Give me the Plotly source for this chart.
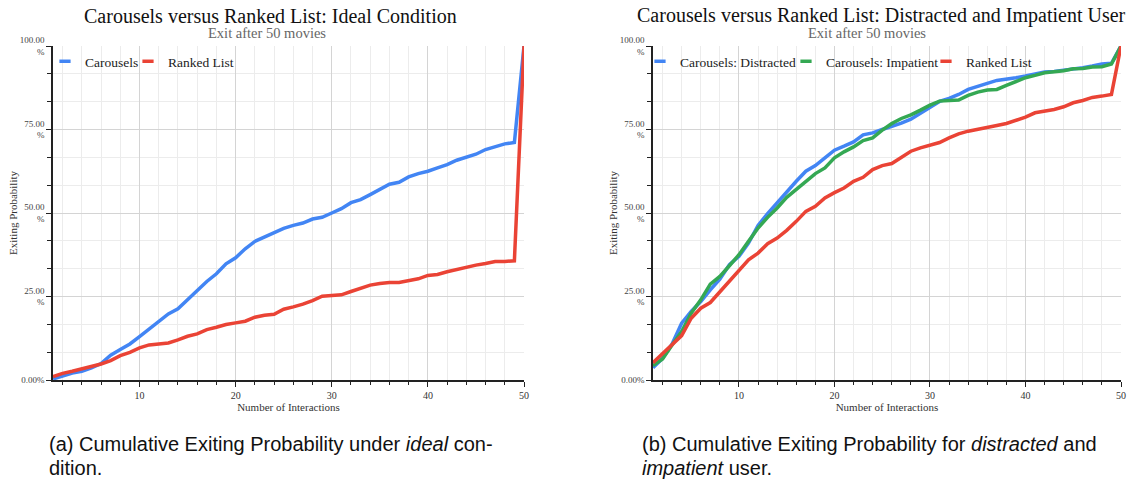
import plotly.graph_objects as go

interactions = list(range(1, 51))

ideal_carousels = [0.3, 1.3, 2.1, 2.6, 3.6, 4.9, 7.4, 9.1, 10.8, 13.0,
                   15.3, 17.6, 19.8, 21.3, 24.1, 26.8, 29.5, 31.8, 34.8, 36.6,
                   39.3, 41.5, 42.8, 44.3, 45.4, 46.3, 47.0, 48.2, 48.7, 50.0,
                   51.3, 53.1, 54.0, 55.5, 57.1, 58.6, 59.2, 60.8, 61.8, 62.5,
                   63.5, 64.5, 65.8, 66.8, 67.6, 69.0, 69.8, 70.7, 71.1, 100.0]
ideal_ranked = [1.0, 2.0, 2.6, 3.3, 4.0, 4.8, 5.8, 7.3, 8.3, 9.6,
                10.5, 10.8, 11.1, 12.0, 13.1, 13.8, 15.1, 15.8, 16.6, 17.1,
                17.6, 18.8, 19.4, 19.7, 21.2, 21.9, 22.7, 23.8, 25.1, 25.3,
                25.5, 26.5, 27.4, 28.4, 28.9, 29.2, 29.2, 29.7, 30.3, 31.3,
                31.6, 32.4, 33.1, 33.9, 34.4, 34.9, 35.5, 35.5, 35.7, 100.0]

distracted_carousels = [3.7, 6.5, 10.8, 17.0, 20.5, 23.5, 27.0, 30.2, 34.5, 37.0,
                        41.0, 46.3, 49.8, 53.1, 56.1, 59.5, 62.5, 64.2, 66.5, 68.8,
                        70.0, 71.3, 73.4, 74.0, 75.0, 75.9, 76.9, 78.1, 79.8, 81.7,
                        83.4, 84.3, 85.5, 87.0, 87.8, 88.8, 89.7, 90.0, 90.5, 91.0,
                        91.5, 92.2, 92.4, 92.7, 93.2, 93.5, 94.0, 94.6, 94.8, 100.0]
impatient_carousels = [4.3, 6.3, 10.5, 14.5, 20.0, 24.0, 28.7, 31.0, 34.2, 37.5,
                       41.5, 45.5, 48.7, 51.5, 54.7, 57.0, 59.2, 61.8, 63.5, 66.5,
                       68.3, 69.8, 71.7, 72.5, 74.8, 76.8, 78.3, 79.4, 80.8, 82.3,
                       83.5, 83.7, 83.8, 85.2, 86.2, 86.8, 87.0, 88.2, 89.3, 90.5,
                       91.2, 92.0, 92.3, 92.6, 93.2, 93.3, 93.7, 93.8, 94.6, 100.0]
distracted_ranked = [5.2, 8.0, 10.5, 13.3, 18.5, 21.5, 23.2, 26.5, 29.8, 33.0,
                     36.0, 38.0, 40.8, 42.5, 44.8, 47.5, 50.5, 52.0, 54.5, 56.1,
                     57.5, 59.5, 60.7, 63.0, 64.2, 64.8, 66.5, 68.5, 69.5, 70.4,
                     71.1, 72.5, 73.7, 74.5, 75.0, 75.7, 76.2, 76.8, 77.8, 78.7,
                     80.0, 80.4, 81.0, 81.8, 83.0, 83.7, 84.6, 85.0, 85.5, 100.0]

y_tickvals = [0, 25, 50, 75, 100]
y_ticktext = ["0.00%", "25.00<br>%", "50.00<br>%", "75.00<br>%", "100.00<br>%"]
x_tickvals = [10, 20, 30, 40, 50]

BLUE = "#4285F4"
RED = "#EA4335"
GREEN = "#34A853"
SERIF = "Liberation Serif, Times New Roman, serif"
SANS = "Liberation Sans, Arial, sans-serif"

W, H = 1128, 482
def px(x):
    return x / W
def py(y):
    return 1 - y / H

fig = go.Figure()

def add_line(xa, ya, y, color, name, legend, lw):
    fig.add_trace(go.Scatter(x=interactions, y=y, mode="lines", xaxis=xa, yaxis=ya,
                             line=dict(color=color, width=3.5), showlegend=False,
                             cliponaxis=False, name=name, hoverinfo="x+y+name"))
    fig.add_trace(go.Scatter(x=[None], y=[None], mode="markers", xaxis=xa, yaxis=ya,
                             name=name, legend=legend, legendwidth=lw,
                             marker=dict(symbol="line-ew", size=8, color=color,
                                         line=dict(color=color, width=3.5))))

add_line("x", "y", ideal_carousels, BLUE, "Carousels", "legend", 38)
add_line("x", "y", ideal_ranked, RED, "Ranked List", "legend", 70)
add_line("x2", "y2", distracted_carousels, BLUE, "Carousels: Distracted", "legend2", 101)
add_line("x2", "y2", impatient_carousels, GREEN, "Carousels: Impatient", "legend2", 95)
add_line("x2", "y2", distracted_ranked, RED, "Ranked List", "legend2", 70)

ydom = [py(380), py(46)]

def xaxis_cfg(dom, anchor):
    return dict(domain=dom, anchor=anchor, range=[1, 50], tickvals=x_tickvals,
                showline=True, linecolor="#222", linewidth=1.5, mirror=False,
                ticks="outside", ticklen=5, tickwidth=1.2, tickcolor="#222",
                showgrid=True, gridcolor="#d4d4d4", gridwidth=1,
                minor=dict(dtick=2, tick0=0, showgrid=True, gridcolor="#ececec",
                           ticks="outside", ticklen=3, tickcolor="#222", tickwidth=1),
                tickfont=dict(family=SERIF, size=10, color="#333"),
                title=dict(text="Number of Interactions",
                           font=dict(family=SERIF, size=11, color="#333"), standoff=1),
                automargin=False, zeroline=False, fixedrange=True)

def yaxis_cfg(anchor):
    return dict(domain=ydom, anchor=anchor, range=[0, 100], tickvals=y_tickvals,
                ticktext=y_ticktext,
                showline=True, linecolor="#222", linewidth=1.5,
                ticks="outside", ticklen=5, tickwidth=1.2, tickcolor="#222",
                showgrid=True, gridcolor="#d4d4d4", gridwidth=1,
                minor=dict(dtick=25 / 3, tick0=0, showgrid=True, gridcolor="#ececec",
                           ticks="outside", ticklen=4, tickcolor="#222", tickwidth=1),
                tickfont=dict(family=SERIF, size=9, color="#444"),
                title=dict(text="Exiting Probability",
                           font=dict(family=SERIF, size=11, color="#333"), standoff=0),
                automargin=False, zeroline=False, fixedrange=True)

legend_common = dict(orientation="h", xanchor="left", yanchor="top",
                     font=dict(family=SERIF, size=13.5, color="#222"),
                     bgcolor="rgba(0,0,0,0)", itemwidth=30, tracegroupgap=0)

fig.update_layout(
    width=W, height=H,
    margin=dict(l=0, r=0, t=0, b=0, autoexpand=False),
    paper_bgcolor="white", plot_bgcolor="white",
    xaxis=xaxis_cfg([px(53), px(524)], "y"),
    yaxis=yaxis_cfg("x"),
    xaxis2=xaxis_cfg([px(653), px(1121)], "y2"),
    yaxis2=yaxis_cfg("x2"),
    legend=dict(legend_common, x=px(45), y=py(46)),
    legend2=dict(legend_common, x=px(640), y=py(46)),
    showlegend=True,
)

annotations = [
    dict(text="Carousels versus Ranked List: Ideal Condition", x=px(270), y=py(16),
         font=dict(family=SERIF, size=20, color="#111")),
    dict(text="Exit after 50 movies", x=px(267), y=py(33),
         font=dict(family=SERIF, size=14.5, color="#666")),
    dict(text="Carousels versus Ranked List: Distracted and Impatient User", x=px(881), y=py(16),
         font=dict(family=SERIF, size=20, color="#111")),
    dict(text="Exit after 50 movies", x=px(867), y=py(33),
         font=dict(family=SERIF, size=14.5, color="#666")),
]
for a in annotations:
    a.update(xref="paper", yref="paper", showarrow=False, xanchor="center", yanchor="middle")

caption_lines = [
    ("(a) Cumulative Exiting Probability under <i>ideal</i> con-", 47, 444),
    ("dition.", 47, 468),
    ("(b) Cumulative Exiting Probability for <i>distracted</i> and", 640, 444),
    ("<i>impatient</i> user.", 640, 468),
]
for text, x, y in caption_lines:
    annotations.append(dict(text=text, x=px(x), y=py(y), xref="paper", yref="paper",
                            showarrow=False, xanchor="left", yanchor="middle", align="left",
                            font=dict(family=SANS, size=20, color="#111")))

fig.update_layout(annotations=annotations)

fig.write_html(
    "out.html",
    config={"displayModeBar": False},
    post_script="document.body.style.margin='0';document.body.style.overflow='hidden';",
)
